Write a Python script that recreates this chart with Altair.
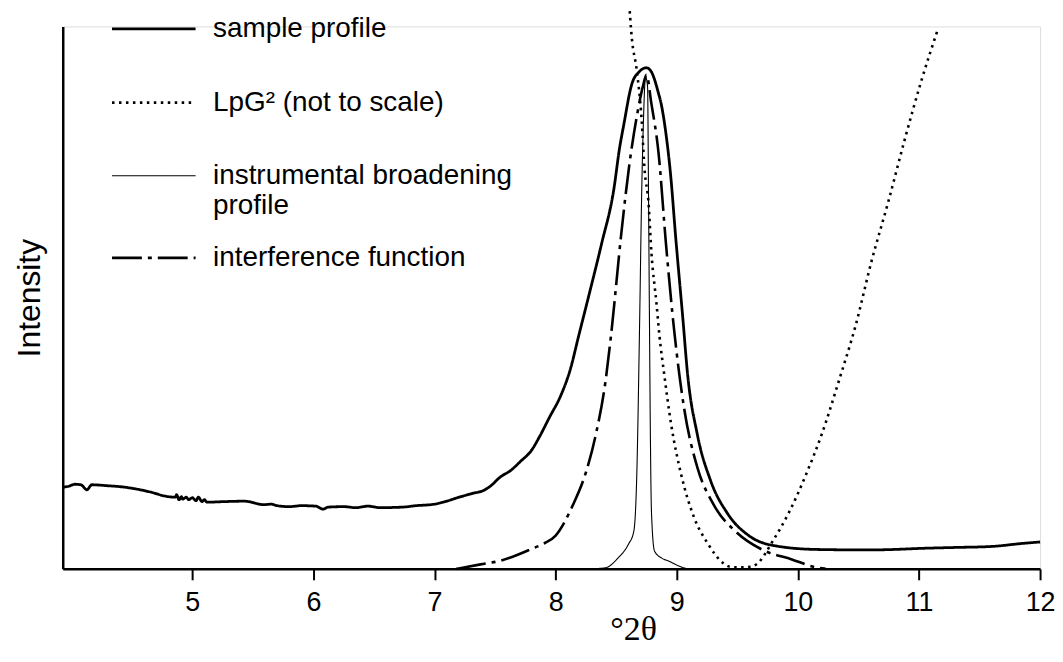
import altair as alt
import pandas as pd

series_names = ["sample profile", "LpG\u00b2 (not to scale)",
                "instrumental broadening profile", "interference function"]

x_ticks = [5, 6, 7, 8, 9, 10, 11, 12]

sample_x = [3.93, 3.98, 4.03, 4.08, 4.13, 4.17, 4.30, 4.41, 4.50, 4.66,
            4.78, 4.86, 4.87, 4.89, 4.91, 4.92, 4.95, 4.97, 5.00, 5.03,
            5.05, 5.08, 5.10, 5.12, 5.25, 5.43, 5.59, 5.65, 5.70, 5.80,
            5.90, 6.02, 6.08, 6.12, 6.25, 6.35, 6.45, 6.55, 6.73, 6.85,
            7.00, 7.10, 7.19, 7.32, 7.40, 7.46, 7.54, 7.63, 7.71, 7.80,
            7.87, 7.95, 8.04, 8.12, 8.19, 8.28, 8.38, 8.48, 8.53, 8.56,
            8.63, 8.69, 8.75, 8.79, 8.85, 8.87, 8.91, 8.95, 8.99, 9.05,
            9.09, 9.17, 9.28, 9.42, 9.60, 9.82, 10.15, 10.58, 10.80, 11.00,
            11.30, 11.60, 11.85, 12.00]
sample_y = [16.4, 16.6, 17.0, 16.9, 15.9, 16.9, 16.7, 16.5, 16.2, 15.4,
            14.6, 14.4, 14.9, 13.9, 14.5, 14.0, 14.4, 13.9, 14.3, 13.7,
            14.4, 13.5, 13.9, 13.4, 13.5, 13.6, 12.9, 13.0, 12.7, 12.5,
            12.7, 12.6, 12.0, 12.4, 12.5, 12.3, 12.6, 12.3, 12.4, 12.7,
            13.0, 13.6, 14.3, 15.2, 15.7, 16.6, 18.4, 19.8, 21.6, 23.8,
            26.7, 30.5, 34.7, 40.0, 46.8, 55.5, 65.4, 76.2, 84.9, 88.9,
            97.5, 99.9, 100.7, 99.9, 95.5, 93.6, 87.6, 79.0, 67.0, 50.4,
            39.0, 27.0, 17.7, 11.1, 6.6, 4.6, 3.9, 3.8, 3.9, 4.1,
            4.3, 4.5, 5.1, 5.4]

lpg_x = [8.604, 8.628, 8.669, 8.71, 8.734, 8.767, 8.791, 8.832, 8.857, 8.897,
         8.954, 9.036, 9.142, 9.256, 9.386, 9.443, 9.525, 9.606, 9.663, 9.793,
         9.932, 10.07, 10.201, 10.339, 10.478, 10.608, 10.746, 10.885, 11.015, 11.153]
lpg_y = [114.9, 106.9, 100.3, 90.3, 80.3, 73.5, 63.5, 53.5, 46.9, 39.0,
         29.0, 19.0, 10.4, 5.1, 1.1, 0.4, 0.3, 0.4, 1.0, 5.6,
         11.6, 19.1, 27.3, 37.8, 49.0, 61.8, 73.7, 86.5, 97.7, 108.2]

instr_x = [8.36, 8.41, 8.52, 8.60, 8.645, 8.67, 8.693, 8.71, 8.726, 8.742,
           8.759, 8.767, 8.775, 8.783, 8.791, 8.816, 8.873, 8.93, 9.036, 9.076]
instr_y = [0.1, 0.2, 2.3, 4.9, 7.5, 18.9, 48.9, 74.9, 90.9, 98.9,
           96.9, 74.9, 48.9, 25.0, 11.6, 3.6, 2.2, 1.6, 0.4, 0.1]

interf_x = [7.18, 7.38, 7.54, 7.81, 7.92, 8.00, 8.14, 8.25, 8.33, 8.41,
            8.46, 8.54, 8.61, 8.67, 8.72, 8.75, 8.79, 8.85, 8.91, 8.98,
            9.06, 9.17, 9.30, 9.50, 9.71, 9.95, 10.15, 10.23]
interf_y = [0.0, 0.9, 1.6, 4.1, 5.3, 6.7, 12.7, 19.4, 26.8, 37.4,
            47.5, 66.9, 81.5, 90.9, 96.9, 99.3, 93.6, 83.5, 65.6, 47.6,
            32.4, 20.4, 13.1, 7.2, 3.8, 1.9, 0.3, 0.0]

rows = []
for name, xs, ys in zip(series_names,
                        [sample_x, lpg_x, instr_x, interf_x],
                        [sample_y, lpg_y, instr_y, interf_y]):
    for x, y in zip(xs, ys):
        rows.append({"series": name, "two_theta": x, "intensity": y})
df = pd.DataFrame(rows)

dash_range = [[1, 0], [2.5, 4.5], [1, 0], [30, 6, 4, 6]]
width_range = [2.8, 2.6, 1.1, 2.6]

legend_kw = dict(
    title=None, orient="none", legendX=53.5, legendY=-35.5, direction="vertical",
    symbolType="M-1.15,0H1.15M0,-0.82M0,0.82", symbolSize=5329, symbolStrokeColor="black",
    symbolFillColor="transparent",
    labelFont="Liberation Sans", labelFontSize=28, labelColor="black", labelLimit=600,
    labelOffset=21.5, rowPadding=0, padding=0, labelBaseline="middle",
    labelExpr="datum.label == 'instrumental broadening profile' ? ['instrumental broadening', 'profile'] : datum.label",
)

chart = alt.Chart(df).mark_line(color="black", strokeCap="butt", strokeJoin="round",
                                interpolate="monotone").encode(
    x=alt.X("two_theta:Q",
            scale=alt.Scale(domain=[3.93, 12.0], nice=False, zero=False),
            axis=alt.Axis(values=x_ticks, format="d", title="\u00b02\u03b8", grid=False,
                          domainColor="black", domainWidth=2.5,
                          tickColor="black", tickWidth=2, tickSize=11,
                          labelFont="Liberation Sans", labelFontSize=27, labelColor="black",
                          labelPadding=10, labelFlush=False,
                          titleFont="Liberation Serif", titleFontSize=34, titleFontWeight="normal",
                          titleColor="black", titleX=573, titleY=71, titleBaseline="alphabetic")),
    y=alt.Y("intensity:Q",
            scale=alt.Scale(domain=[0, 109], nice=False),
            axis=alt.Axis(title="Intensity", ticks=False, labels=False, grid=False,
                          domainColor="black", domainWidth=2.5,
                          titleFont="Liberation Sans", titleFontSize=32, titleFontWeight="normal",
                          titleColor="black", titlePadding=16)),
    strokeDash=alt.StrokeDash("series:N",
                              scale=alt.Scale(domain=series_names, range=dash_range),
                              legend=alt.Legend(**legend_kw)),
    strokeWidth=alt.StrokeWidth("series:N",
                                scale=alt.Scale(type="ordinal", domain=series_names, range=width_range),
                                legend=alt.Legend(**legend_kw)),
).properties(
    width=982, height=545,
    autosize=alt.AutoSizeParams(type="none"),
    padding={"left": 55, "top": 17, "right": 15, "bottom": 80},
).configure_view(stroke=None).configure(background="white")

chart.save("out.html", embed_options={"renderer": "svg", "actions": False})
